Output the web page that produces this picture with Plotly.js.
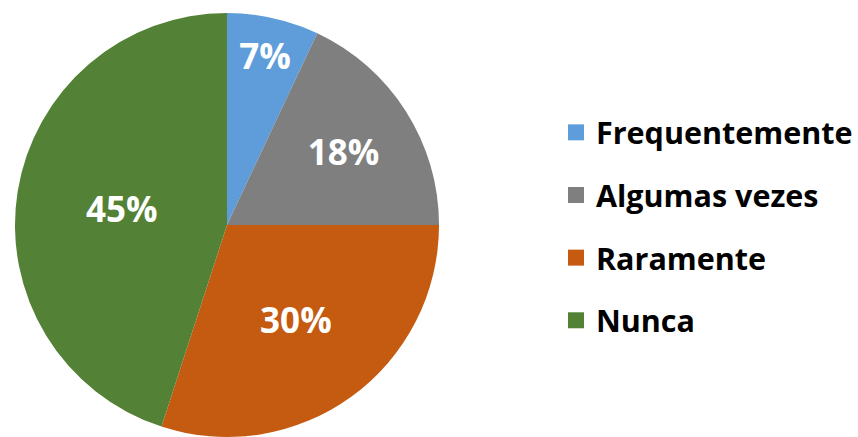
<!DOCTYPE html>
<html>
<head>
<meta charset="utf-8">
<script src="https://cdn.plot.ly/plotly-3.0.1.min.js"></script>
<style>html,body{margin:0;padding:0;background:#fff;}#chart{width:858px;height:437px;}</style>
</head>
<body>
<div id="chart"></div>
<script>
const labels = ["Frequentemente", "Algumas vezes", "Raramente", "Nunca"];
const values = [7, 18, 30, 45];
const colors = ["#5E9DD9", "#7F7F7F", "#C55A11", "#538135"];

const FONT = "'Open Sans', Lato, sans-serif";

const pie = {
  type: "pie",
  labels: labels,
  values: values,
  sort: false,
  direction: "clockwise",
  rotation: 0,
  marker: {colors: colors, line: {width: 0}},
  textinfo: "percent",
  texttemplate: "%{percent:.0%}",
  textposition: "inside",
  insidetextorientation: "horizontal",
  textfont: {family: FONT, size: 35, color: "#ffffff", weight: "bold"},
  domain: {x: [13/858, 441/858], y: [0, (437-13)/437]},
  showlegend: false,
  hoverinfo: "label+percent"
};

const legendTraces = labels.map((lab, i) => ({
  type: "scatter",
  mode: "markers",
  x: [null], y: [null],
  name: lab,
  legendgroup: "g" + i,
  marker: {symbol: "square", size: 16, color: colors[i]},
  showlegend: true,
  hoverinfo: "skip"
}));

const layout = {
  width: 858, height: 437,
  margin: {l: 0, r: 0, t: 0, b: 0},
  paper_bgcolor: "#ffffff",
  plot_bgcolor: "rgba(0,0,0,0)",
  xaxis: {visible: false},
  yaxis: {visible: false},
  showlegend: true,
  legend: {
    x: 0.648, xanchor: "left",
    y: 1 - 106/437, yanchor: "top",
    font: {family: FONT, size: 30.5, color: "#000000", weight: "bold"},
    tracegroupgap: 20,
    bgcolor: "rgba(0,0,0,0)",
    itemclick: false, itemdoubleclick: false
  }
};

Plotly.newPlot("chart", [pie].concat(legendTraces), layout, {displayModeBar: false, staticPlot: true});
</script>
</body>
</html>
